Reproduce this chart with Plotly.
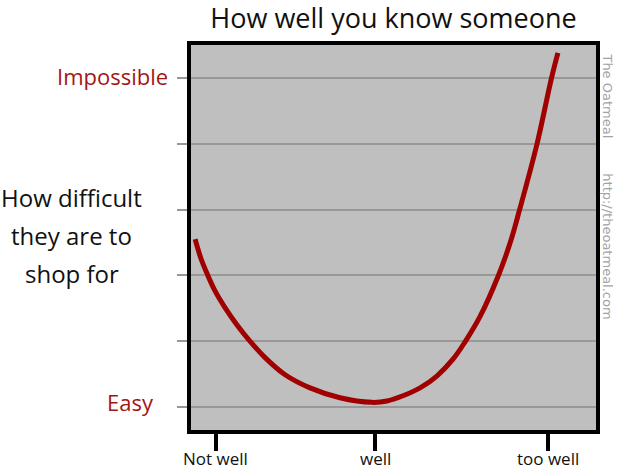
import plotly.graph_objects as go

# Datos (x: qué tan bien conoces a alguien, y: dificultad)
conocimiento = [0.15, 0.29, 0.46, 0.64, 0.88, 1.17, 1.49, 1.86, 2.35, 2.96,
                3.69, 4.47, 4.84, 5.23, 5.65, 6.06, 6.46, 6.75, 7.12, 7.56,
                7.85, 8.08, 8.51, 8.86, 9.02]
dificultad = [2.55, 2.26, 2.00, 1.76, 1.51, 1.25, 1.00, 0.75, 0.49, 0.29,
              0.14, 0.07, 0.09, 0.17, 0.29, 0.47, 0.73, 0.99, 1.38, 1.99,
              2.49, 2.99, 4.00, 4.99, 5.38]

x_ticks = [0.65, 4.55, 8.78]
x_labels = ['Not well', 'well', 'too well']
y_ticks = [0, 1, 2, 3, 4, 5]
y_label_easy = 'Easy'
y_label_hard = 'Impossible'
y_title_lines = ['How difficult', 'they are to', 'shop for']
titulo = 'How well you know someone'
creditos = ['The Oatmeal', 'http://theoatmeal.com']

COLORS = {
    'curve': '#a00000',
    'plot_bg': '#bfbfbf',
    'grid': '#989898',
    'text': '#111111',
    'label_red': '#a31515',
    'credit': '#a3a3a3',
}
FONT = 'Open Sans'

fig = go.Figure()
fig.add_trace(go.Scatter(
    x=conocimiento,
    y=dificultad,
    mode='lines',
    line=dict(color=COLORS['curve'], width=5, shape='spline', smoothing=1.0),
    hoverinfo='skip',
    showlegend=False
))

# Etiquetas del eje y (rojas) y texto explicativo a la izquierda
anotaciones = [
    dict(text=y_label_hard, xref='paper', yref='y', x=-0.052, y=5.03,
         xanchor='right', yanchor='middle', showarrow=False,
         font=dict(size=22, family=FONT, color=COLORS['label_red'])),
    dict(text=y_label_easy, xref='paper', yref='y', x=-0.086, y=0.07,
         xanchor='right', yanchor='middle', showarrow=False,
         font=dict(size=22, family=FONT, color=COLORS['label_red'])),
]
for linea, ypos in zip(y_title_lines, [0.605, 0.506, 0.406]):
    anotaciones.append(dict(
        text=linea, xref='paper', yref='paper', x=-0.294, y=ypos,
        xanchor='center', yanchor='middle', showarrow=False,
        font=dict(size=24, family=FONT, color=COLORS['text'])
    ))

# Etiquetas del eje x, debajo de las marcas
for xv, etiqueta in zip(x_ticks, x_labels):
    anotaciones.append(dict(
        text=etiqueta, xref='x', yref='paper', x=xv, y=-0.075,
        xanchor='center', yanchor='middle', showarrow=False,
        font=dict(size=17, family=FONT, color=COLORS['text'])
    ))

# Créditos verticales a la derecha
anotaciones.append(dict(
    text=creditos[0], xref='paper', yref='paper', x=1.0296, y=0.982,
    xanchor='center', yanchor='top', textangle=90, showarrow=False,
    font=dict(size=13, family='DejaVu Sans', color=COLORS['credit'])
))
anotaciones.append(dict(
    text=creditos[1], xref='paper', yref='paper', x=1.0296, y=0.672,
    xanchor='center', yanchor='top', textangle=90, showarrow=False,
    font=dict(size=13, family='DejaVu Sans', color=COLORS['credit'])
))

fig.update_layout(
    width=619,
    height=475,
    margin=dict(l=191, r=23, t=45, b=45),
    paper_bgcolor='white',
    plot_bgcolor=COLORS['plot_bg'],
    font=dict(family=FONT, color=COLORS['text']),
    title=dict(
        text=titulo,
        x=0.5, xref='paper', xanchor='center',
        y=0.96, yanchor='middle',
        font=dict(size=27, family=FONT, color=COLORS['text'])
    ),
    xaxis=dict(
        range=[0.049, 9.951],
        tickvals=x_ticks,
        showticklabels=False,
        ticks='outside',
        ticklen=17,
        tickwidth=4,
        tickcolor='black',
        showgrid=False,
        zeroline=False,
        showline=True,
        linecolor='black',
        linewidth=3.5,
        mirror=True,
        automargin=False,
        fixedrange=True
    ),
    yaxis=dict(
        range=[-0.35, 5.50],
        tickvals=y_ticks,
        showticklabels=False,
        ticks='outside',
        ticklen=10,
        tickwidth=2,
        tickcolor=COLORS['grid'],
        showgrid=True,
        gridcolor=COLORS['grid'],
        gridwidth=2,
        zeroline=False,
        showline=True,
        linecolor='black',
        linewidth=3.5,
        mirror=True,
        automargin=False,
        fixedrange=True
    ),
    annotations=anotaciones
)

# quitar el margen por defecto del body para que la figura quede en (0, 0)
fig.write_html('out.html', config={'displayModeBar': False},
               post_script="document.body.style.margin='0';")
